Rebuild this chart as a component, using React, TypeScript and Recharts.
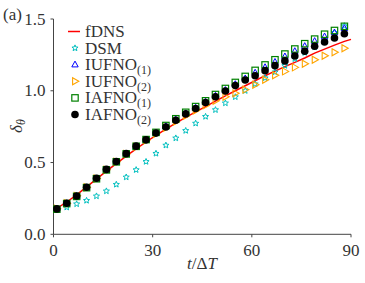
import React from 'react';
import { LineChart, Line, XAxis, YAxis } from 'recharts';

// time samples (t / ΔT)
const tSteps = [1, 4, 7, 10, 13, 16, 19, 22, 25, 28, 31, 34, 37, 40, 43, 46, 49, 52, 55, 58, 61, 64, 67, 70, 73, 76, 79, 82, 85, 88];

// filtered DNS reference curve (last value is at t = 90)
const fdnsValues = [0.18, 0.225, 0.275, 0.33, 0.385, 0.44, 0.493, 0.545, 0.595, 0.643, 0.69, 0.733, 0.775, 0.815, 0.853, 0.89, 0.928, 0.964, 1.0, 1.035, 1.07, 1.105, 1.137, 1.168, 1.198, 1.228, 1.262, 1.29, 1.318, 1.344];
const fdnsEnd = { t: 90, value: 1.358 };

const dsmValues = [0.178, 0.188, 0.211, 0.235, 0.266, 0.301, 0.347, 0.398, 0.449, 0.506, 0.563, 0.62, 0.67, 0.722, 0.773, 0.82, 0.867, 0.914, 0.957, 1.0, 1.047, 1.089, 1.13, 1.175, 1.222, 1.265, 1.305, 1.35, 1.405, 1.452];
const iufno1Values = [0.176, 0.215, 0.265, 0.326, 0.388, 0.45, 0.505, 0.561, 0.612, 0.658, 0.706, 0.752, 0.798, 0.842, 0.88, 0.922, 0.964, 1.004, 1.045, 1.085, 1.125, 1.163, 1.2, 1.238, 1.275, 1.31, 1.345, 1.377, 1.405, 1.435];
const iufno2Values = [0.178, 0.217, 0.268, 0.328, 0.389, 0.45, 0.505, 0.56, 0.61, 0.655, 0.7, 0.742, 0.785, 0.825, 0.862, 0.898, 0.93, 0.958, 0.982, 1.008, 1.042, 1.077, 1.108, 1.135, 1.163, 1.188, 1.216, 1.244, 1.268, 1.296];
const iafno1Values = [0.175, 0.214, 0.264, 0.325, 0.387, 0.449, 0.505, 0.56, 0.613, 0.66, 0.71, 0.758, 0.805, 0.85, 0.89, 0.93, 0.974, 1.016, 1.058, 1.1, 1.142, 1.18, 1.216, 1.256, 1.291, 1.328, 1.36, 1.394, 1.42, 1.449];
const iafno2Values = [0.177, 0.216, 0.267, 0.328, 0.39, 0.452, 0.507, 0.562, 0.614, 0.658, 0.705, 0.748, 0.795, 0.839, 0.876, 0.918, 0.958, 0.998, 1.036, 1.075, 1.105, 1.14, 1.175, 1.208, 1.242, 1.275, 1.31, 1.34, 1.368, 1.397];

const xTicks = [0, 30, 60, 90];
const yTicks = [0, 0.5, 1.0, 1.5];

const FONT = 'Liberation Serif, DejaVu Serif, serif';
const TEXT = '#333';

const data = [
  ...tSteps.map((t, i) => ({
    t,
    fdns: fdnsValues[i],
    dsm: dsmValues[i],
    iufno1: iufno1Values[i],
    iufno2: iufno2Values[i],
    iafno1: iafno1Values[i],
    iafno2: iafno2Values[i],
  })),
  { t: fdnsEnd.t, fdns: fdnsEnd.value },
];

type Kind = 'star' | 'triUp' | 'triRight' | 'square' | 'circle';

const starPoints = (cx: number, cy: number, ro: number, ri: number) => {
  const pts: string[] = [];
  for (let k = 0; k < 10; k++) {
    const r = k % 2 === 0 ? ro : ri;
    const a = -Math.PI / 2 + (k * Math.PI) / 5;
    pts.push(`${cx + r * Math.cos(a)},${cy + r * Math.sin(a)}`);
  }
  return pts.join(' ');
};

function Marker({ kind, cx, cy }: { kind: Kind; cx: number; cy: number }) {
  switch (kind) {
    case 'star':
      return <polygon points={starPoints(cx, cy, 3.2, 1.4)} fill="none" stroke="#00BFBF" strokeWidth={1} />;
    case 'triUp':
      return (
        <polygon
          points={`${cx},${cy - 3.6} ${cx - 3.2},${cy + 2.2} ${cx + 3.2},${cy + 2.2}`}
          fill="none"
          stroke="#0000FF"
          strokeWidth={1}
        />
      );
    case 'triRight':
      return (
        <polygon
          points={`${cx + 3.8},${cy} ${cx - 2.4},${cy - 3.5} ${cx - 2.4},${cy + 3.5}`}
          fill="none"
          stroke="#FFA500"
          strokeWidth={1.1}
        />
      );
    case 'square':
      return <rect x={cx - 3.2} y={cy - 3.2} width={6.4} height={6.4} fill="none" stroke="#008000" strokeWidth={1.2} />;
    default:
      return <circle cx={cx} cy={cy} r={3.8} fill="#000" />;
  }
}

const makeDot = (kind: Kind) => (props: any) => {
  const { cx, cy, index, value } = props;
  if (cx == null || cy == null || value == null) return <g key={`${kind}-${index}`} />;
  return <Marker key={`${kind}-${index}`} kind={kind} cx={cx} cy={cy} />;
};

const legendItems: { kind: Kind | 'line'; name: string; sub?: string }[] = [
  { kind: 'line', name: 'fDNS' },
  { kind: 'star', name: 'DSM' },
  { kind: 'triUp', name: 'IUFNO', sub: '(1)' },
  { kind: 'triRight', name: 'IUFNO', sub: '(2)' },
  { kind: 'square', name: 'IAFNO', sub: '(1)' },
  { kind: 'circle', name: 'IAFNO', sub: '(2)' },
];

// x, y of the legend's first row centre
const LEG_X = 64;
const LEG_Y = 31.5;
const LEG_STEP = 16.6;

const ChartLegend = () => (
  <g fontFamily={FONT} fontSize={17} fill={TEXT}>
    {legendItems.map((item, i) => {
      const cy = LEG_Y + i * LEG_STEP;
      return (
        <g key={i}>
          {item.kind === 'line' ? (
            <line x1={LEG_X + 4} x2={LEG_X + 16} y1={cy} y2={cy} stroke="#FF0000" strokeWidth={1.5} />
          ) : (
            <Marker kind={item.kind} cx={LEG_X + 11} cy={cy} />
          )}
          <text x={LEG_X + 21} y={cy + 5.5}>
            {item.name}
            {item.sub && (
              <tspan fontSize={12} dy={4}>
                {item.sub}
              </tspan>
            )}
          </text>
        </g>
      );
    })}
  </g>
);

const XTick = ({ x, y, payload }: any) => (
  <text x={x} y={y + 17} textAnchor="middle" fontFamily={FONT} fontSize={17} fill={TEXT}>
    {payload.value}
  </text>
);

const YTick = ({ x, y, payload }: any) => (
  <text x={x - 3} y={y + 5.5} textAnchor="end" fontFamily={FONT} fontSize={17} fill={TEXT}>
    {Number(payload.value).toFixed(1)}
  </text>
);

const XLabel = () => (
  <text x={202} y={269} textAnchor="middle" fontFamily={FONT} fontSize={17} fill={TEXT}>
    <tspan fontStyle="italic">t</tspan>
    <tspan>/Δ</tspan>
    <tspan fontStyle="italic">T</tspan>
  </text>
);

const YLabel = () => (
  <text x={22} y={126} transform="rotate(-90 22 126)" textAnchor="middle" fontFamily={FONT} fontSize={17} fill={TEXT}>
    <tspan fontStyle="italic">δ</tspan>
    <tspan fontStyle="italic" fontSize={12} dy={3}>θ</tspan>
  </text>
);

export default function App() {
  return (
    <div style={{ position: 'absolute', left: 0, top: 0, width: 365, height: 283, background: '#fff' }}>
      <LineChart width={365} height={283} data={data} margin={{ top: 19, right: 14, bottom: 18.7, left: 0 }}>
        <XAxis
          dataKey="t"
          type="number"
          domain={[0, 90]}
          ticks={xTicks}
          height={30}
          tickSize={3}
          tick={<XTick />}
          stroke="#444"
          label={<XLabel />}
        />
        <XAxis xAxisId="top" orientation="top" type="number" domain={[0, 90]} height={0} tick={false} tickLine={false} stroke="#888" />
        <YAxis
          type="number"
          domain={[0, 1.5]}
          ticks={yTicks}
          width={53.5}
          tickSize={3}
          tick={<YTick />}
          stroke="#444"
          label={<YLabel />}
        />
        <YAxis yAxisId="right" orientation="right" domain={[0, 1.5]} width={0} tick={false} tickLine={false} stroke="#888" />
        <Line dataKey="fdns" stroke="#FF0000" strokeWidth={1.5} dot={false} activeDot={false} isAnimationActive={false} />
        <Line dataKey="dsm" stroke="none" dot={makeDot('star')} activeDot={false} isAnimationActive={false} />
        <Line dataKey="iufno1" stroke="none" dot={makeDot('triUp')} activeDot={false} isAnimationActive={false} />
        <Line dataKey="iufno2" stroke="none" dot={makeDot('triRight')} activeDot={false} isAnimationActive={false} />
        <Line dataKey="iafno1" stroke="none" dot={makeDot('square')} activeDot={false} isAnimationActive={false} />
        <Line dataKey="iafno2" stroke="none" dot={makeDot('circle')} activeDot={false} isAnimationActive={false} />
        <ChartLegend />
        <text x={3} y={20} fontFamily={FONT} fontSize={17} fill={TEXT}>(a)</text>
      </LineChart>
    </div>
  );
}
